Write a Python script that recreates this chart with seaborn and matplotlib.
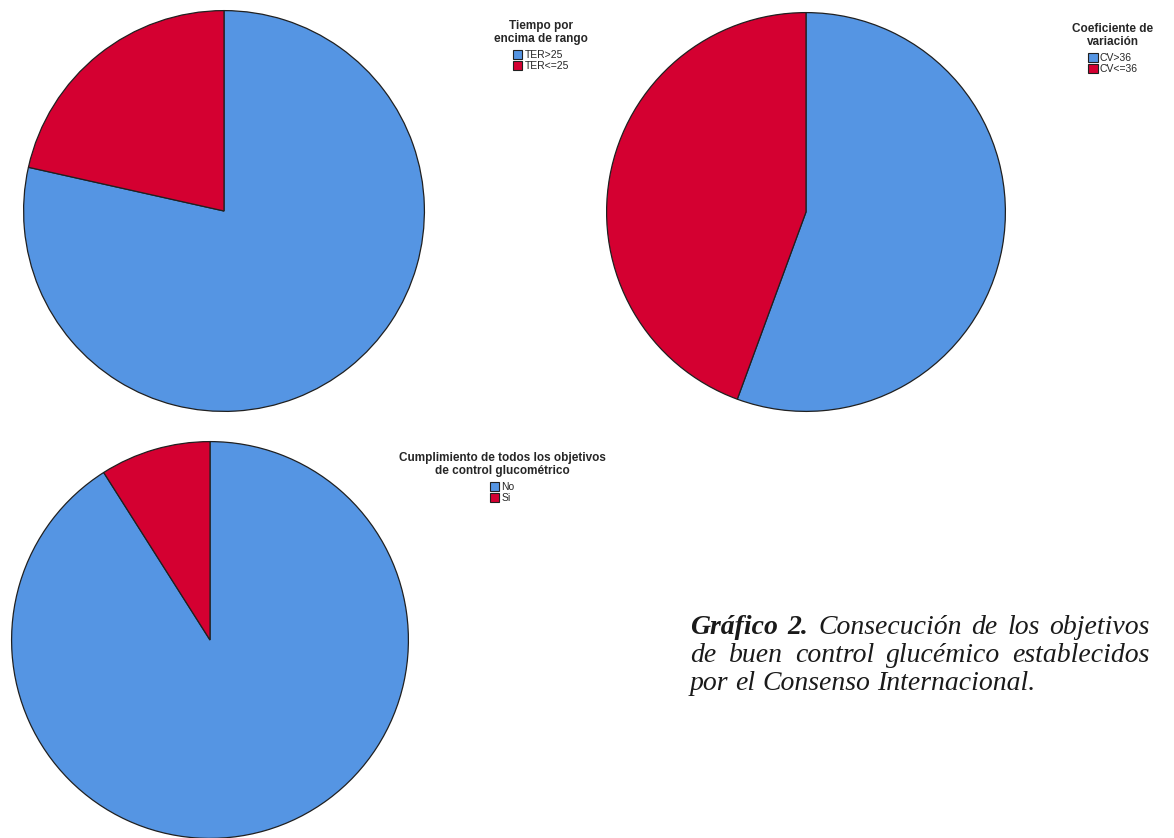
import matplotlib
matplotlib.use("Agg")
import matplotlib.pyplot as plt
import seaborn as sns
from matplotlib.patches import Patch

sns.set_theme(style="white")
plt.rcParams["font.family"] = ["Liberation Sans", "DejaVu Sans"]

# Category labels and shares (%) per indicator
ter_labels = ["TER>25", "TER<=25"]
ter_values = [78.5, 21.5]

cv_labels = ["CV>36", "CV<=36"]
cv_values = [55.6, 44.4]

goal_labels = ["No", "Si"]
goal_values = [91.0, 9.0]

colors = ["#5595E3", "#D40031"]
edge = "#202020"

W, H = 1174, 838
fig = plt.figure(figsize=(W / 100, H / 100), dpi=100)
fig.patch.set_facecolor("white")


def pie_axes(cx, cy, r):
    ax = fig.add_axes([(cx - r) / W, (H - cy - r) / H, 2 * r / W, 2 * r / H])
    ax.set_axis_off()
    return ax


def draw_pie(ax, values):
    ax.pie(values, colors=colors, startangle=90, counterclock=False, radius=1,
           wedgeprops=dict(edgecolor=edge, linewidth=0.9))
    ax.set_xlim(-1.003, 1.003)
    ax.set_ylim(-1.003, 1.003)


def draw_legend(title, labels, x, y):
    handles = [Patch(facecolor=c, edgecolor=edge, linewidth=0.8) for c in colors]
    leg = fig.legend(handles, labels, title=title, loc="upper center",
                     bbox_to_anchor=(x / W, 1 - y / H), frameon=False,
                     fontsize=7.5, handlelength=0.9, handleheight=0.9,
                     handletextpad=0.2, labelspacing=0.08, borderpad=0,
                     title_fontproperties={"weight": "bold", "size": 8.5})
    leg.get_title().set_multialignment("center")
    leg.get_title().set_linespacing(1.05)
    leg._legend_box.align = "center"
    leg._legend_box.sep = 4
    return leg


ax1 = pie_axes(224, 211, 201)
draw_pie(ax1, ter_values)
draw_legend("Tiempo por\nencima de rango", ter_labels, 541, 15)

ax2 = pie_axes(806, 212, 200)
draw_pie(ax2, cv_values)
draw_legend("Coeficiente de\nvariación", cv_labels, 1113, 18)

ax3 = pie_axes(210, 640, 199)
draw_pie(ax3, goal_values)
draw_legend("Cumplimiento de todos los objetivos\nde control glucométrico", goal_labels, 502, 447)

# Justified caption block
caption_lines = [
    [("Gráfico", "bold"), ("2.", "bold"), ("Consecución", "normal"), ("de", "normal"),
     ("los", "normal"), ("objetivos", "normal")],
    [("de", "normal"), ("buen", "normal"), ("control", "normal"), ("glucémico", "normal"),
     ("establecidos", "normal")],
    [("por", "normal"), ("el", "normal"), ("Consenso", "normal"), ("Internacional.", "normal")],
]
x_left, x_right = 690, 1150
baselines = [634, 662, 690]
fsize = 20
color_cap = "#1a1a1a"

fig.canvas.draw()
renderer = fig.canvas.get_renderer()
for i, (words, base) in enumerate(zip(caption_lines, baselines)):
    texts = []
    for w, wt in words:
        t = fig.text(0, 1 - base / H, w, fontsize=fsize, fontstyle="italic",
                     fontweight=wt, family="Liberation Serif", va="baseline",
                     ha="left", color=color_cap)
        texts.append(t)
    widths = [t.get_window_extent(renderer).width for t in texts]
    space = fsize * 1.39 * 0.25
    if i < len(caption_lines) - 1:
        gap = (x_right - x_left - sum(widths)) / (len(texts) - 1)
    else:
        gap = space
    x = x_left
    for t, wd in zip(texts, widths):
        t.set_x(x / W)
        x += wd + gap

fig.savefig("out.png", dpi=100, facecolor="white")
